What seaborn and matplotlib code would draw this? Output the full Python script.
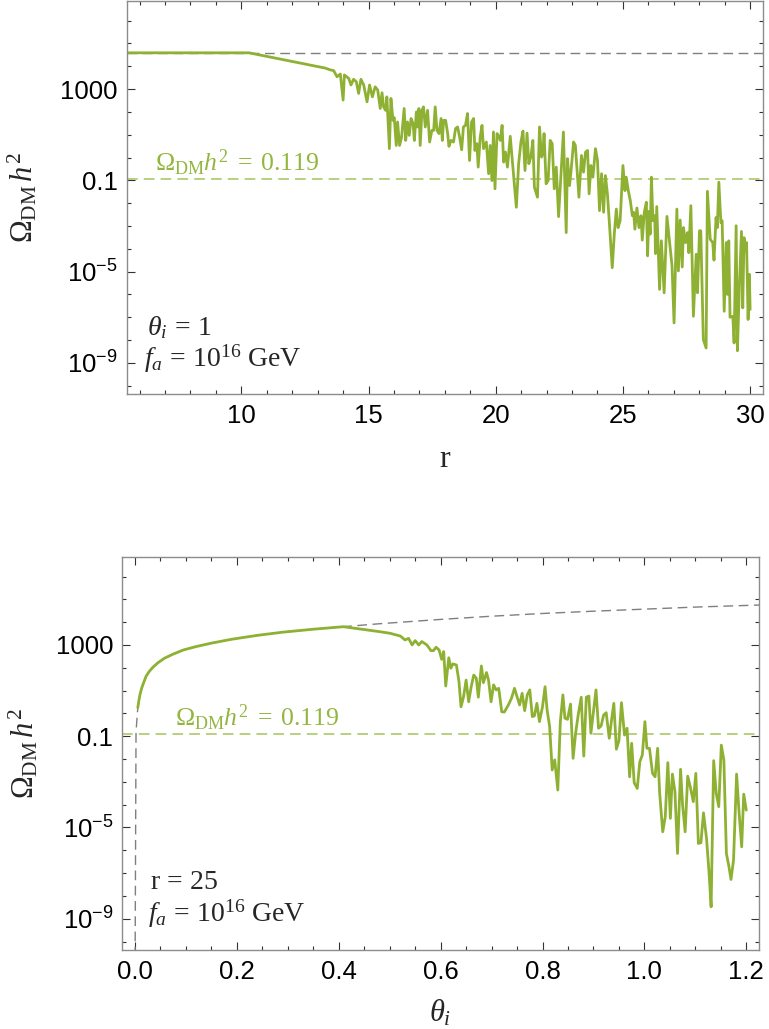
import numpy as np
import matplotlib
matplotlib.use('Agg')
import matplotlib.pyplot as plt
import seaborn as sns
from matplotlib.ticker import FixedLocator, FixedFormatter, MultipleLocator, FormatStrFormatter

# ---- top panel: relic abundance vs r  (theta_i = 1, f_a = 1e16 GeV) ----
r_vals = [5.5, 10.3, 13.3,
          13.50, 13.63, 13.76, 13.89, 14.00, 14.05, 14.22, 14.31, 14.41, 14.52,
          14.61, 14.70, 14.81, 14.94, 15.04, 15.15, 15.26, 15.36, 15.46, 15.53,
          15.59, 15.67, 15.72, 15.82, 15.88, 15.96, 16.01, 16.09, 16.14, 16.22,
          16.30, 16.40, 16.46, 16.53, 16.60, 16.67, 16.75, 16.80, 16.88, 16.93,
          16.98, 17.03, 17.10, 17.16, 17.23, 17.32, 17.40, 17.49, 17.56, 17.62,
          17.69, 17.77, 17.85, 17.90, 17.95, 18.03, 18.11, 18.16, 18.24, 18.34,
          18.42, 18.50, 18.58, 18.66, 18.73, 18.81, 18.89, 18.97, 19.05, 19.13,
          19.18, 19.26, 19.31, 19.39, 19.46, 19.52, 19.63, 19.72, 19.78, 19.85,
          19.91, 19.97, 20.05, 20.13, 20.18, 20.25, 20.31, 20.38, 20.46, 20.57,
          20.65, 20.73, 20.81, 20.90, 20.99, 21.07, 21.15, 21.23, 21.30, 21.38,
          21.46, 21.52, 21.64, 21.72, 21.80, 21.85, 21.90, 21.98, 22.06, 22.14,
          22.22, 22.30, 22.38, 22.47, 22.56, 22.66, 22.77, 22.82, 22.90, 22.95,
          23.06, 23.13, 23.27, 23.37, 23.45, 23.53, 23.61, 23.67, 23.74, 23.82,
          23.92, 24.00, 24.08, 24.16, 24.24, 24.31, 24.39, 24.47, 24.58, 24.66,
          24.74, 24.81, 24.89, 25.00, 25.08, 25.13, 25.21, 25.29, 25.37, 25.42,
          25.47, 25.55, 25.63, 25.71, 25.76, 25.84, 25.92, 25.97, 26.02, 26.07,
          26.12, 26.18, 26.25, 26.28, 26.33, 26.44, 26.51, 26.62, 26.73, 26.83,
          26.93, 27.01, 27.12, 27.18, 27.25, 27.33, 27.38, 27.46, 27.54, 27.59,
          27.67, 27.77, 27.88, 27.93, 28.01, 28.06, 28.16, 28.27, 28.32, 28.43,
          28.53, 28.58, 28.66, 28.71, 28.77, 28.85, 28.90, 28.98, 29.06, 29.11,
          29.16, 29.21, 29.32, 29.37, 29.45, 29.50, 29.58, 29.66, 29.71, 29.76,
          29.81, 29.86, 29.92, 29.97, 30.00]
omega_r_log10 = [4.59, 4.59, 3.92,
                 3.84, 3.81, 3.54, 3.66, 2.52, 3.62, 3.47, 3.18, 3.43, 3.32,
                 2.81, 3.43, 3.18, 2.44, 3.18, 2.66, 3.10, 2.96, 2.15, 2.84,
                 2.22, 2.07, 2.66, 0.39, 2.59, 1.63, 1.75, 0.53, 1.56, 0.53,
                 0.90, 2.15, 0.75, 1.56, 0.97, 1.71, 1.49, 0.75, 2.00, 1.34,
                 2.15, 0.53, 2.07, 2.22, 1.34, 2.07, 0.68, 1.19, 1.19, 2.22,
                 1.19, 1.05, 1.71, 0.75, 1.63, 1.63, 1.05, 0.49, 0.75, 0.68,
                 1.27, 1.34, 0.90, 0.34, 1.34, 1.41, 1.93, -0.13, 1.56, 1.71,
                 0.31, 0.61, -0.42, 0.90, 1.41, 0.39, 0.68, -0.71, 0.53, -1.01,
                 1.12, -1.37, 1.05, 0.90, 0.75, 1.41, -0.20, 0.24, -0.42, 0.93,
                 -0.13, -1.15, -2.18, -0.27, 0.68, 1.16, -0.57, 1.07, -0.27, 0.02,
                 0.75, -1.30, -1.74, 1.34, 0.02, 0.17, 1.05, -1.15, -1.01, 0.75,
                 0.61, -1.37, -0.42, -2.59, -0.86, 1.12, -3.29, -0.05, -1.23, -0.71,
                 0.68, 0.53, -1.74, 0.09, -0.64, 0.24, 0.31, -1.59, -0.35, -0.86,
                 0.39, -0.13, -2.33, -0.71, -2.40, -0.79, -1.59, -2.92, -4.83, -3.36,
                 -2.26, -3.07, -2.77, -0.35, -1.45, -0.86, -1.45, -1.89, -2.55, -2.40,
                 -3.14, -2.21, -3.07, -2.55, -3.62, -2.40, -1.96, -4.31, -2.36, -3.36,
                 -0.86, -2.77, -2.55, -4.21, -2.15, -5.78, -3.65, -5.93, -2.58, -3.65,
                 -4.75, -7.25, -2.26, -4.97, -2.74, -4.80, -3.07, -3.73, -3.29, -4.17,
                 -2.11, -6.96, -4.24, -5.93, -3.21, -3.21, -7.98, -8.35, -1.48, -3.58,
                 -3.73, -4.50, -2.63, -3.07, -1.08, -2.85, -2.77, -6.74, -3.73, -6.00,
                 -3.65, -7.00, -6.96, -8.13, -2.99, -8.47, -5.56, -3.24, -6.59, -3.51,
                 -4.09, -3.73, -7.10, -5.12, -6.66]
r_bound = [5.5, 30.5]
omega_r_bound_log10 = [4.59, 4.59]

# ---- bottom panel: relic abundance vs theta_i  (r = 25) ----
theta_smooth = [0.0055, 0.0075, 0.010, 0.013, 0.017, 0.022, 0.028, 0.035, 0.045,
                0.058, 0.075, 0.095, 0.12, 0.15, 0.19, 0.24, 0.29, 0.35, 0.409]
omega_smooth_log10 = [0.25, 0.55, 0.85, 1.10, 1.35, 1.64, 1.84, 2.02, 2.22,
                      2.42, 2.60, 2.78, 2.93, 3.08, 3.25, 3.42, 3.56, 3.69, 3.80]
theta_noisy = [0.481, 0.501, 0.521, 0.530, 0.537, 0.544, 0.550, 0.557, 0.563,
               0.573, 0.581, 0.586, 0.591, 0.597, 0.602, 0.606, 0.610, 0.616,
               0.620, 0.624, 0.631, 0.636, 0.640, 0.645, 0.650, 0.655, 0.660,
               0.665, 0.670, 0.674, 0.680, 0.684, 0.690, 0.694, 0.699, 0.704,
               0.709, 0.714, 0.720, 0.725, 0.733, 0.739, 0.745, 0.750, 0.755,
               0.760, 0.765, 0.770, 0.775, 0.780, 0.784, 0.789, 0.794, 0.800,
               0.805, 0.809, 0.814, 0.819, 0.824, 0.830, 0.835, 0.840, 0.844,
               0.849, 0.855, 0.860, 0.865, 0.870, 0.876, 0.881, 0.886, 0.891,
               0.895, 0.900, 0.905, 0.910, 0.915, 0.920, 0.925, 0.931, 0.936,
               0.940, 0.945, 0.950, 0.955, 0.961, 0.966, 0.971, 0.975, 0.980,
               0.986, 0.991, 0.996, 1.001, 1.005, 1.010, 1.016, 1.021, 1.026,
               1.030, 1.036, 1.041, 1.046, 1.051, 1.055, 1.060, 1.065, 1.071,
               1.075, 1.080, 1.085, 1.090, 1.096, 1.101, 1.106, 1.111, 1.116,
               1.122, 1.127, 1.131, 1.136, 1.141, 1.146, 1.151, 1.156, 1.161,
               1.166, 1.170, 1.175, 1.181, 1.186, 1.191, 1.195, 1.200]
omega_noisy_log10 = [3.58, 3.51, 3.39, 3.22, 3.29, 3.00, 3.19, 3.00, 3.15,
                     3.00, 2.75, 2.75, 2.90, 2.78, 2.37, 2.71, 1.20, 2.44,
                     1.98, 2.17, 2.12, 1.39, 0.29, 0.73, 1.46, 0.51, 1.17,
                     1.68, 1.54, 0.71, 2.08, 1.35, 1.79, 1.46, 0.51, 1.25,
                     1.03, 1.10, 0.07, 0.06, 0.37, 0.66, 1.10, 0.73, 0.37,
                     0.88, 0.12, 0.81, 1.03, -0.14, -0.11, 0.44, -0.36, 0.29,
                     1.17, 0.15, -0.58, -2.48, -2.04, -3.36, -0.36, 0.81, -0.21,
                     -0.26, 0.41, -1.97, -0.87, -0.07, 0.71, -1.87, 0.71, 0.76,
                     -0.87, 0.07, 1.03, -0.65, -0.55, -0.07, 0.03, -1.09, -0.21,
                     0.44, -1.57, -1.20, 0.47, -0.95, -0.65, -2.78, -1.31, -3.04,
                     -3.29, -2.12, -1.82, -0.36, -1.53, -1.53, -2.63, -2.78, -1.53,
                     -3.50, -5.19, -4.53, -2.16, -4.60, -2.66, -3.43, -6.14, -2.45,
                     -4.02, -5.19, -2.75, -3.21, -3.87, -2.63, -5.70, -5.67, -4.36,
                     -5.48, -7.01, -8.48, -2.07, -3.50, -4.09, -1.39, -2.04, -6.14,
                     -6.72, -7.28, -6.43, -2.66, -4.38, -5.85, -3.54, -4.24]
theta_bound_low = [0.0, 0.002, 0.004]
omega_bound_low_log10 = [-12.0, -0.8, -0.2]
theta_bound_high = [0.48, 0.6, 0.7, 0.8, 0.9, 1.0, 1.1, 1.225]
omega_bound_high_log10 = [3.93, 4.12, 4.26, 4.38, 4.48, 4.57, 4.66, 4.75]

omega_obs = 0.119

GREEN = '#8fb133'
GREEN_DASH = '#a6c25e'
GREEN_TEXT = '#93b63f'
GREY = '#7f7f7f'

sns.set_style('ticks')
plt.rcParams['font.family'] = ['Liberation Sans', 'DejaVu Sans']
plt.rcParams['mathtext.fontset'] = 'custom'
plt.rcParams['mathtext.rm'] = 'Liberation Serif'
plt.rcParams['mathtext.it'] = 'Liberation Serif:italic'
plt.rcParams['mathtext.bf'] = 'Liberation Serif:bold'
plt.rcParams['mathtext.sf'] = 'Liberation Sans'


def style_axes(ax):
    ax.set_yscale('log')
    ax.set_ylim(10 ** -10.37, 10 ** 6.86)
    ax.yaxis.set_major_locator(FixedLocator([1e-9, 1e-5, 1e-1, 1e3]))
    ax.yaxis.set_major_formatter(FixedFormatter(
        [r'$\mathsf{10^{-9}}$', r'$\mathsf{10^{-5}}$', '0.1', '1000']))
    ax.yaxis.set_minor_locator(FixedLocator(10.0 ** np.arange(-11, 9)))
    ax.yaxis.set_minor_formatter(FixedFormatter([]))
    ax.tick_params(which='both', direction='in', top=True, right=True,
                   color='#333333', width=0.8, labelsize=18.5, labelcolor='black')
    ax.tick_params(which='major', length=5.5)
    ax.tick_params(which='minor', length=3)
    ax.tick_params(axis='x', pad=7)
    ax.tick_params(axis='y', pad=6.5)
    for sp in ax.spines.values():
        sp.set_color('#8c8c8c')
        sp.set_linewidth(1.0)
    ax.set_ylabel(r'$\Omega_{\mathrm{DM}}\,h^2$', fontsize=22)


fig = plt.figure(figsize=(7.69, 10.29), dpi=100)
ax1 = fig.add_axes([0.165, 0.617, 0.827, 0.382])
ax2 = fig.add_axes([0.159, 0.0768, 0.828, 0.382])

# top panel
sns.lineplot(x=r_bound, y=10 ** np.array(omega_r_bound_log10), ax=ax1,
             color=GREY, lw=1.0, estimator=None, sort=False)
ax1.lines[-1].set_dashes((7, 4))
ax1.axhline(omega_obs, color=GREEN_DASH, lw=1.1, dashes=(7, 4))
sns.lineplot(x=r_vals, y=10 ** np.array(omega_r_log10), ax=ax1,
             color=GREEN, lw=2.0, estimator=None, sort=False)
style_axes(ax1)
ax1.set_xlim(5.5, 30.5)
ax1.xaxis.set_major_locator(MultipleLocator(5))
ax1.xaxis.set_minor_locator(MultipleLocator(1))
ax1.set_xlabel(r'$\mathrm{r}$', fontsize=23, labelpad=12)
ax1.yaxis.set_label_coords(-0.137, 0.5)
ax1.text(0.044, 0.567, r'$\Omega_{\mathrm{DM}}h^2\; =\; 0.119$', transform=ax1.transAxes,
         color=GREEN_TEXT, fontsize=18.5, va='baseline')
ax1.text(0.031, 0.150, r'$\theta_i\, =\, 1$', transform=ax1.transAxes,
         fontsize=20, va='baseline')
ax1.text(0.027, 0.069, r'$f_a\, =\, 10^{16}\ \mathrm{GeV}$', transform=ax1.transAxes,
         fontsize=20, va='baseline')

# bottom panel
theta_grey = theta_bound_low + theta_smooth + theta_bound_high
omega_grey = omega_bound_low_log10 + omega_smooth_log10 + omega_bound_high_log10
theta_green = theta_smooth + theta_noisy
omega_green = omega_smooth_log10 + omega_noisy_log10

sns.lineplot(x=theta_grey, y=10 ** np.array(omega_grey), ax=ax2,
             color=GREY, lw=1.0, estimator=None, sort=False)
ax2.lines[-1].set_dashes((7, 4))
ax2.axhline(omega_obs, color=GREEN_DASH, lw=1.1, dashes=(7, 4))
sns.lineplot(x=theta_green, y=10 ** np.array(omega_green), ax=ax2,
             color=GREEN, lw=2.0, estimator=None, sort=False)
style_axes(ax2)
ax2.set_xlim(-0.025, 1.225)
ax2.xaxis.set_major_locator(MultipleLocator(0.2))
ax2.xaxis.set_minor_locator(MultipleLocator(0.05))
ax2.xaxis.set_major_formatter(FormatStrFormatter('%.1f'))
ax2.set_xlabel(r'$\theta_i$', fontsize=22, labelpad=10)
ax2.yaxis.set_label_coords(-0.129, 0.5)
ax2.text(0.083, 0.570, r'$\Omega_{\mathrm{DM}}h^2\; =\; 0.119$', transform=ax2.transAxes,
         color=GREEN_TEXT, fontsize=18.5, va='baseline')
ax2.text(0.044, 0.155, r'$\mathrm{r}\, =\, 25$', transform=ax2.transAxes,
         fontsize=20, va='baseline')
ax2.text(0.041, 0.071, r'$f_a\, =\, 10^{16}\ \mathrm{GeV}$', transform=ax2.transAxes,
         fontsize=20, va='baseline')

fig.savefig('out.png', dpi=100)
